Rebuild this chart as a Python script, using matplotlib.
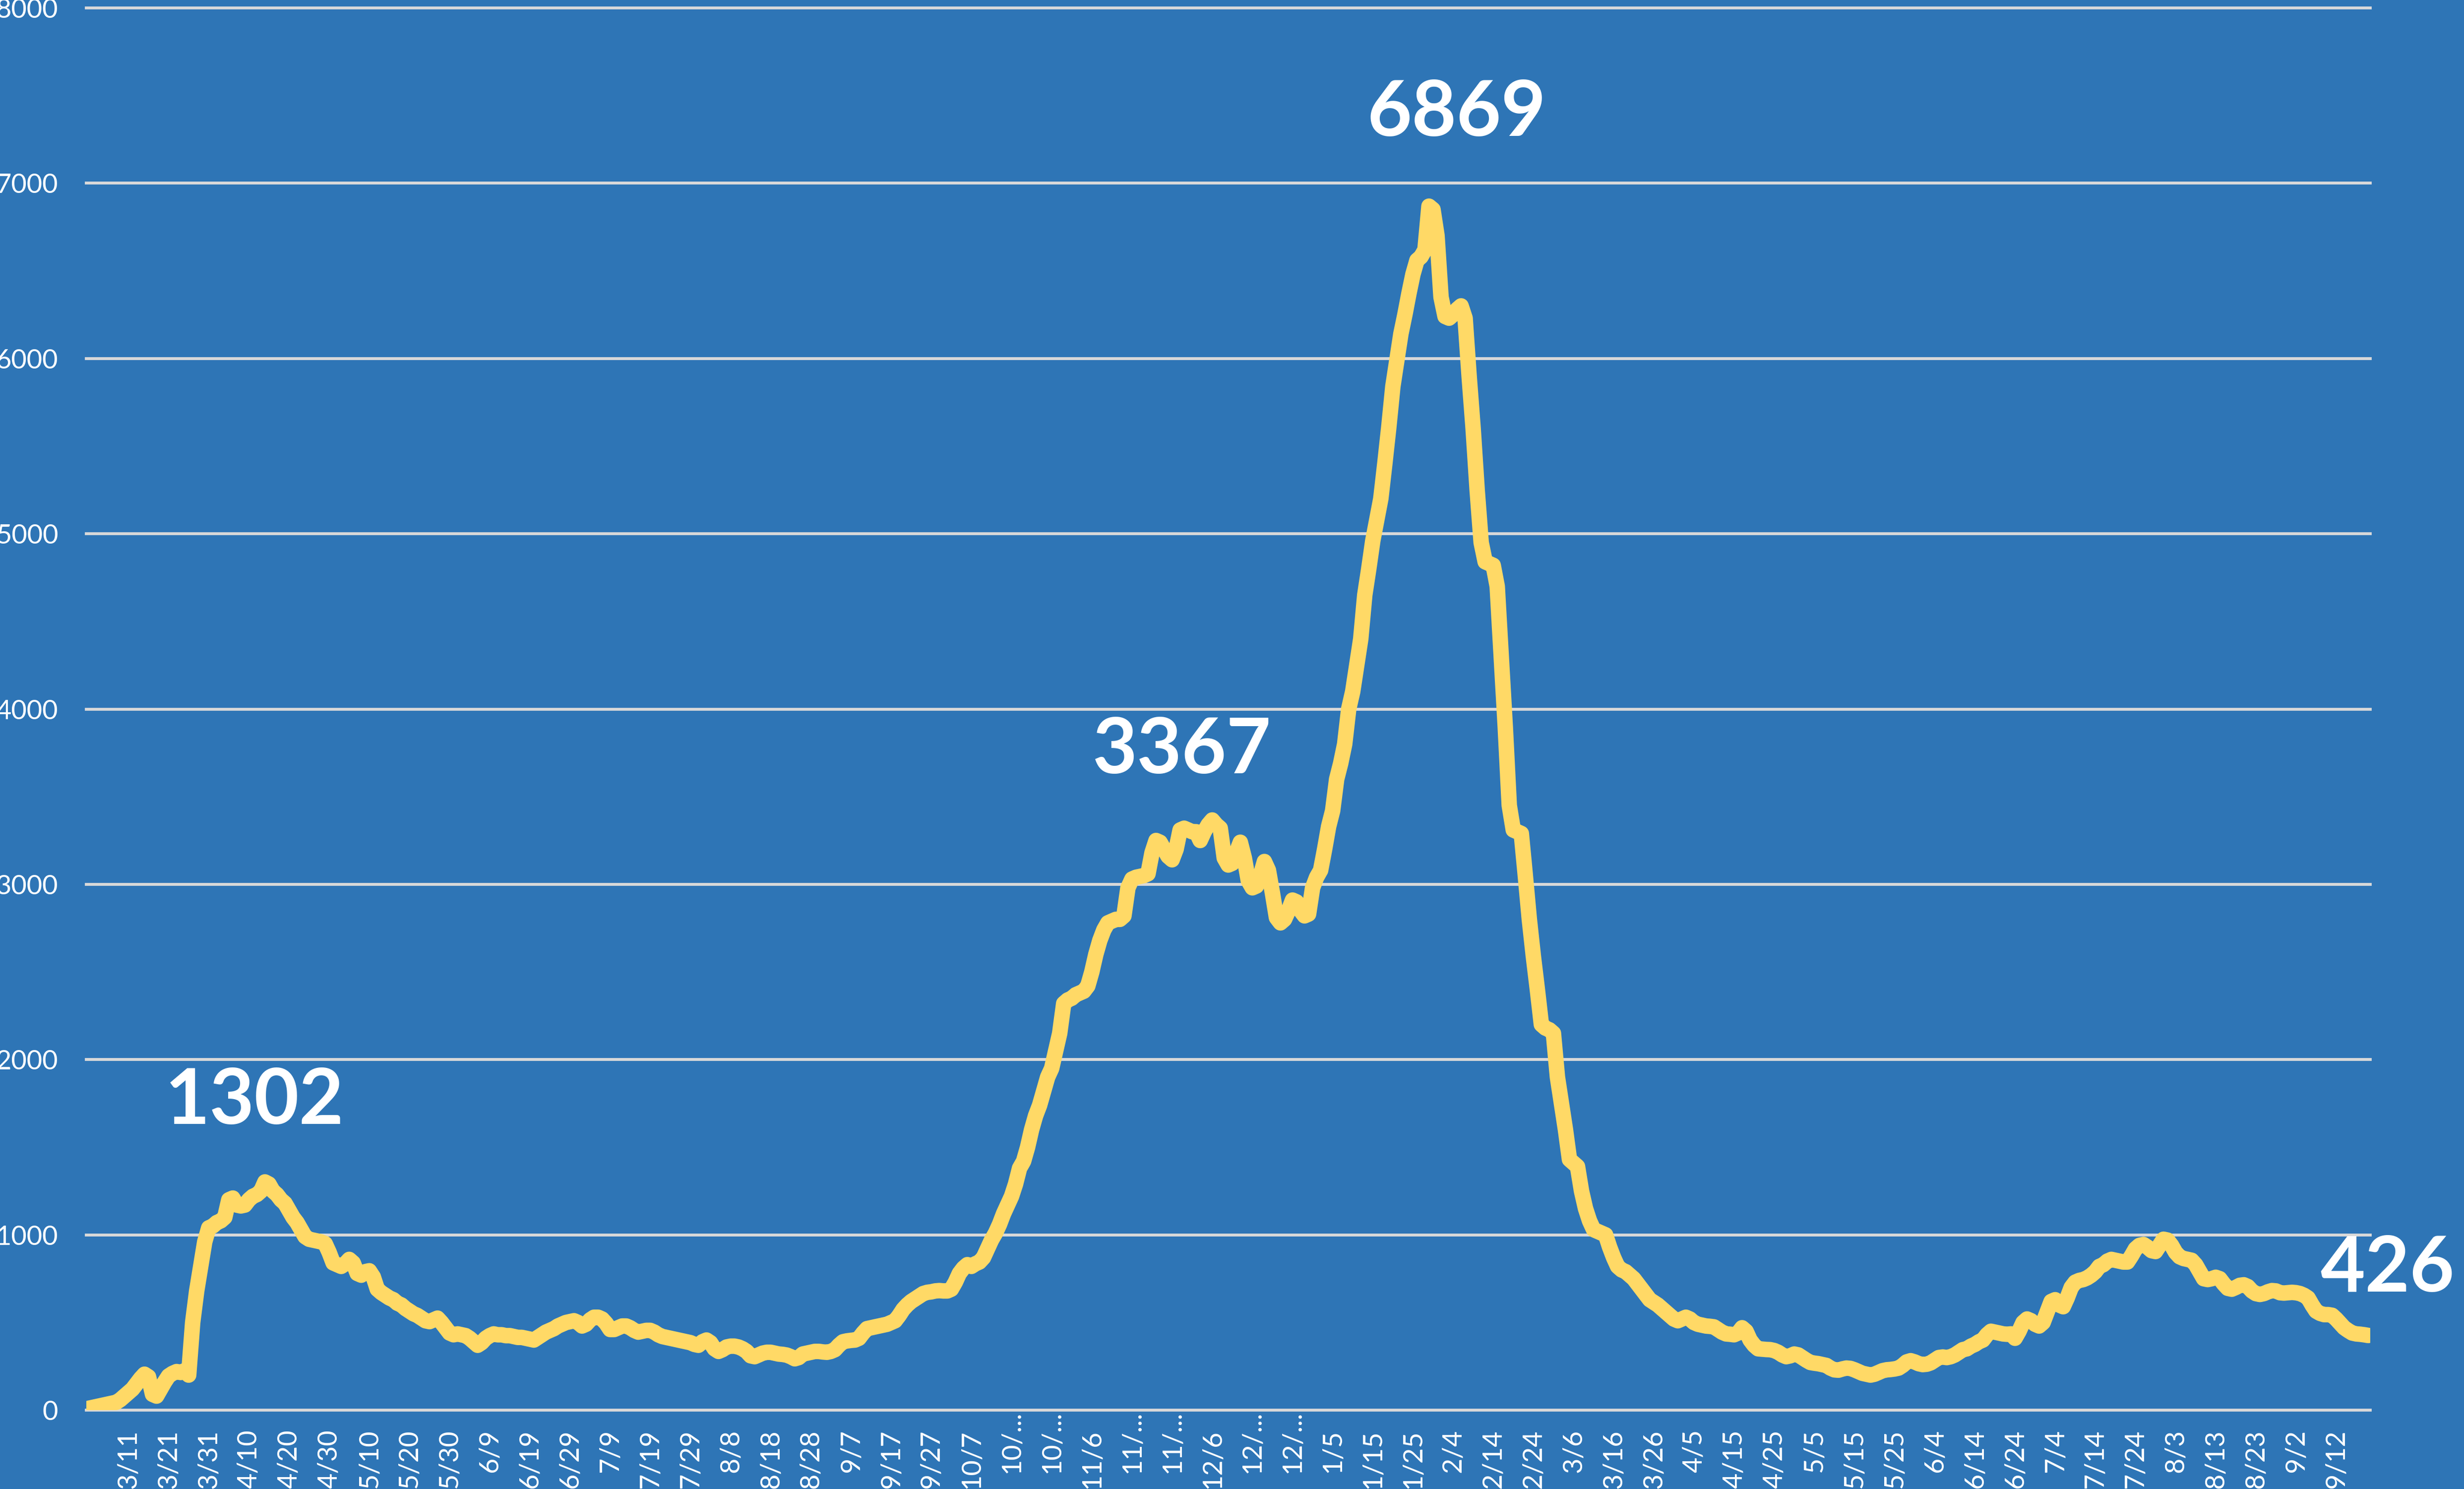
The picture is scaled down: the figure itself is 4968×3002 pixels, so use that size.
import numpy as np
import matplotlib
matplotlib.use("Agg")
import matplotlib.pyplot as plt

plt.rcParams['font.family'] = ['Lato', 'DejaVu Sans']

# daily values, first point is 3/1
cases = [
    10, 15, 20, 25, 30, 35, 40, 45, 60, 80,
    100, 120, 150, 180, 205, 190, 90, 80, 120, 160,
    195, 210, 220, 215, 225, 200, 500, 680, 820, 960,
    1040, 1050, 1070, 1080, 1100, 1200, 1210, 1170, 1165, 1170,
    1200, 1220, 1230, 1250, 1302, 1290, 1250, 1230, 1200, 1180,
    1140, 1100, 1070, 1030, 990, 975, 970, 965, 960, 950,
    900, 840, 830, 820, 835, 860, 840, 780, 770, 790,
    795, 760, 690, 670, 655, 640, 630, 610, 600, 580,
    565, 550, 540, 525, 510, 505, 515, 525, 500, 470,
    440, 430, 435, 430, 425, 410, 390, 370, 385, 410,
    425, 435, 430, 430, 425, 425, 420, 415, 415, 410,
    405, 400, 415, 430, 445, 455, 465, 480, 490, 500,
    505, 510, 500, 480, 490, 515, 530, 530, 520, 495,
    460, 460, 470, 480, 480, 470, 455, 445, 450, 455,
    455, 445, 430, 420, 415, 410, 405, 400, 395, 390,
    385, 375, 370, 390, 400, 385, 350, 335, 345, 360,
    365, 365, 360, 350, 335, 310, 305, 315, 325, 330,
    330, 325, 320, 318, 314, 305, 293, 300, 320, 325,
    330, 335, 335, 332, 330, 335, 345, 370, 390, 395,
    398, 400, 410, 440, 465, 470, 475, 480, 485, 490,
    500, 510, 540, 575, 600, 620, 635, 650, 665, 672,
    675, 680, 682, 680, 680, 690, 730, 780, 810, 830,
    820, 835, 845, 870, 920, 970, 1010, 1060, 1120, 1170,
    1220, 1290, 1380, 1420, 1500, 1600, 1680, 1740, 1820, 1900,
    1950, 2050, 2150, 2320, 2340, 2350, 2370, 2380, 2390, 2420,
    2500, 2600, 2680, 2740, 2780, 2790, 2800, 2800, 2820, 2980,
    3030, 3040, 3045, 3050, 3060, 3180, 3250, 3240, 3200, 3160,
    3140, 3200, 3310, 3320, 3310, 3300, 3300, 3250, 3300, 3340,
    3367, 3340, 3320, 3150, 3110, 3120, 3180, 3240, 3150, 3020,
    2980, 2990, 3050, 3130, 3080, 2950, 2810, 2780, 2800, 2850,
    2910, 2900, 2850, 2820, 2830, 2980, 3040, 3080, 3200, 3330,
    3420, 3600, 3690, 3800, 4000, 4100, 4250, 4400, 4650, 4800,
    4960, 5080, 5200, 5400, 5610, 5840, 5990, 6140, 6250, 6370,
    6480, 6560, 6580, 6620, 6869, 6850, 6700, 6350, 6240, 6230,
    6250, 6280, 6300, 6230, 5900, 5600, 5250, 4950, 4840, 4830,
    4820, 4700, 4300, 3900, 3450, 3310, 3300, 3290, 3050, 2800,
    2590, 2400, 2200, 2180, 2170, 2150, 1900, 1750, 1600, 1430,
    1410, 1390, 1250, 1150, 1080, 1030, 1020, 1010, 1000, 930,
    870, 820, 800, 790, 770, 750, 720, 690, 660, 630,
    615, 600, 580, 560, 540, 520, 510, 520, 530, 520,
    500, 490, 485, 480, 478, 475, 460, 445, 435, 433,
    430, 440, 470, 450, 400, 370, 350, 348, 346, 345,
    340, 330, 315, 305, 310, 320, 315, 300, 285, 272,
    268, 265, 260, 255, 240, 230, 228, 235, 240, 238,
    230, 220, 210, 205, 200, 205, 215, 225, 230, 232,
    235, 240, 255, 275, 282, 275, 265, 260, 262, 270,
    285, 300, 303, 300, 305, 315, 330, 345, 350, 365,
    375, 390, 400, 430, 450, 445, 440, 435, 433, 435,
    410, 450, 500, 520, 510, 490, 480, 500, 560, 620,
    630, 600, 590, 640, 700, 730, 740, 745, 755, 770,
    790, 820, 830, 850, 860, 855, 850, 845, 845, 880,
    920, 940, 945, 930, 910, 905, 940, 975, 970, 940,
    900, 875, 865, 860, 855, 830, 790, 750, 745, 750,
    758, 750, 720, 695, 690, 700, 712, 715, 705, 680,
    665, 660, 665, 675, 682, 680, 670, 668, 670, 672,
    670, 665, 655, 640, 600, 565, 552, 545, 545, 541,
    520, 495, 470, 454, 440, 435, 433, 430, 426,
]

# every 10th day gets a label (Excel cuts the 5-character ones)
x_labels = ["3/11", "3/21", "3/31", "4/10", "4/20", "4/30", "5/10", "5/20",
            "5/30", "6/9", "6/19", "6/29", "7/9", "7/19", "7/29", "8/8",
            "8/18", "8/28", "9/7", "9/17", "9/27", "10/7", "10/...", "10/...",
            "11/6", "11/...", "11/...", "12/6", "12/...", "12/...", "1/5",
            "1/15", "1/25", "2/4", "2/14", "2/24", "3/6", "3/16", "3/26",
            "4/5", "4/15", "4/25", "5/5", "5/15", "5/25", "6/4", "6/14",
            "6/24", "7/4", "7/14", "7/24", "8/3", "8/13", "8/23", "9/2", "9/12"]
y_ticks = [0, 1000, 2000, 3000, 4000, 5000, 6000, 7000, 8000]

peak_text = ["1302", "3367", "6869", "426"]
peak_x = [41.4, 272.5, 340.9, 589.5]
peak_y = [1760, 3760, 7396, 802]
peak_ha = ["center", "center", "center", "right"]

bg = "#2E75B6"
fig = plt.figure(figsize=(49.68, 30.02), dpi=100, facecolor=bg)
ax = fig.add_axes([174 / 4968, (3002 - 2843) / 3002, (4779 - 174) / 4968, (2843 - 16) / 3002])
ax.set_facecolor(bg)

x = np.arange(len(cases))
ax.plot(x, cases, color="#FFD966", lw=22.5, solid_joinstyle="round",
        solid_capstyle="round", zorder=3)

ax.set_xlim(-0.5, len(cases) - 0.5)
ax.set_ylim(0, 8000)
ax.set_yticks(y_ticks)
ax.set_yticklabels([str(v) for v in y_ticks])
ax.set_xticks(np.arange(10, 10 * len(x_labels) + 1, 10))
ax.set_xticklabels(x_labels, rotation=90)

ax.yaxis.grid(True, color="#D9D9D9", lw=4.2)
for gl in ax.get_ygridlines():
    gl.set_clip_on(False)
ax.set_axisbelow(True)
for s in ax.spines.values():
    s.set_visible(False)

ax.tick_params(axis="y", length=0, pad=41, labelsize=39, labelcolor="white")
ax.tick_params(axis="x", length=0, pad=28, labelsize=39, labelcolor="white")
for t, lab in zip(ax.xaxis.get_major_ticks(), x_labels):
    if lab.endswith("..."):
        t.set_pad(1)

for s, px, py, ha in zip(peak_text, peak_x, peak_y, peak_ha):
    ax.text(px, py, s, ha=ha, va="center", color="white", fontsize=112,
            fontweight="bold", zorder=4)

fig.savefig("out.png", dpi=100, facecolor=bg)
